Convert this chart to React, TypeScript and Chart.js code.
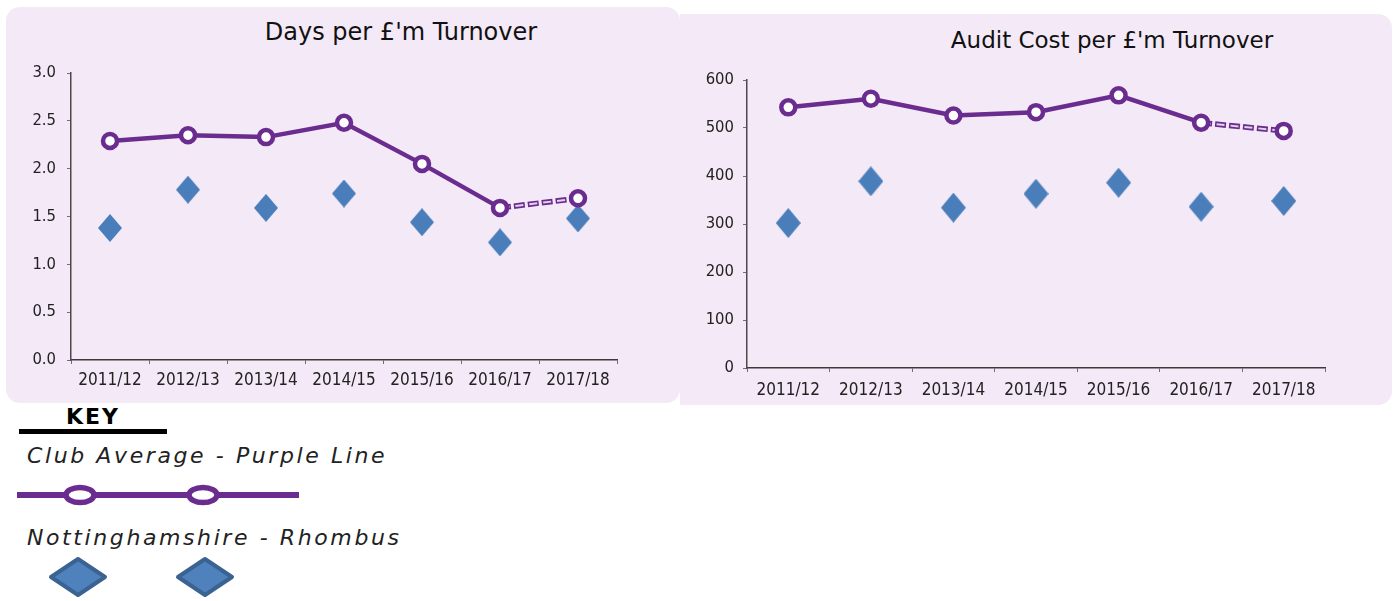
import React, { useEffect, useRef } from 'react';
import { Chart, registerables } from 'chart.js';

Chart.register(...registerables);

// ---- data ----
const categories = ['2011/12', '2012/13', '2013/14', '2014/15', '2015/16', '2016/17', '2017/18'];
const daysClub = [2.29, 2.35, 2.33, 2.48, 2.05, 1.59, 1.69];
const daysNotts = [1.38, 1.78, 1.59, 1.74, 1.44, 1.23, 1.48];
const costClub = [543, 561, 526, 533, 568, 511, 494];
const costNotts = [302, 389, 334, 363, 386, 336, 348];
const daysTicks = [0, 3, 0.5];
const costTicks = [0, 600, 100];

const PURPLE = '#6a2c8e';
const DASH_LIGHT = '#e3d3ec';
const BLUE = '#4a7ebb';
const PANEL = '#f4e9f6';
const FONT = "'DejaVu Sans', Verdana, sans-serif";
const TICK_FONT = "'DejaVu Sans Condensed', 'Liberation Sans Narrow', 'DejaVu Sans', sans-serif";

function makeDiamond(w: number, h: number, color: string) {
  const c = document.createElement('canvas');
  c.width = w;
  c.height = h;
  const g = c.getContext('2d')!;
  g.fillStyle = color;
  g.beginPath();
  g.moveTo(w / 2, 0);
  g.lineTo(w, h / 2);
  g.lineTo(w / 2, h);
  g.lineTo(0, h / 2);
  g.closePath();
  g.fill();
  return c;
}

function dashData(values: number[]) {
  return values.map((v, i) => (i >= values.length - 2 ? v : null));
}

function buildConfig(p: {
  club: number[];
  notts: number[];
  ticks: number[];
  decimals: number;
  yWidth: number;
  xHeight: number;
  padding: { left: number; top: number; right: number; bottom: number };
  diamond: HTMLCanvasElement;
  xPad: number;
  yPad: number;
}): any {
  const last = p.club.length - 1;
  return {
    type: 'line',
    data: {
      labels: categories,
      datasets: [
        {
          label: 'Club Average',
          data: p.club,
          borderColor: PURPLE,
          borderWidth: 4.5,
          segment: {
            borderColor: (ctx: any) => (ctx.p1DataIndex === last ? 'rgba(0,0,0,0)' : PURPLE),
          },
          pointRadius: 7,
          pointBorderWidth: 4.5,
          pointBackgroundColor: '#ffffff',
          pointBorderColor: PURPLE,
          fill: false,
          tension: 0,
        },
        {
          label: 'dash inner',
          data: dashData(p.club),
          borderColor: DASH_LIGHT,
          borderWidth: 2,
          borderDash: [8, 6],
          borderDashOffset: -1.5,
          pointRadius: 0,
          fill: false,
        },
        {
          label: 'dash outer',
          data: dashData(p.club),
          borderColor: PURPLE,
          borderWidth: 5.5,
          borderDash: [11, 3],
          pointRadius: 0,
          fill: false,
        },
        {
          label: 'Nottinghamshire',
          data: p.notts,
          showLine: false,
          pointStyle: p.diamond,
          pointRadius: 12,
          pointBackgroundColor: BLUE,
          pointBorderWidth: 0,
        },
      ],
    },
    options: {
      responsive: false,
      animation: false,
      events: [],
      layout: { padding: p.padding },
      plugins: {
        legend: { display: false },
        tooltip: { enabled: false },
        title: { display: false },
      },
      scales: {
        x: {
          type: 'category',
          offset: true,
          grid: {
            offset: true,
            drawOnChartArea: false,
            drawTicks: true,
            tickLength: 4,
            color: '#707070',
            lineWidth: 1,
          },
          border: { display: true, color: '#3a3a3a', width: 1.5 },
          ticks: {
            color: '#222',
            font: { family: TICK_FONT, size: 17 },
            padding: p.xPad,
            maxRotation: 0,
            autoSkip: false,
          },
          afterFit: (s: any) => {
            s.height = p.xHeight;
            s.paddingLeft = 0;
            s.paddingRight = 0;
          },
        },
        y: {
          min: p.ticks[0],
          max: p.ticks[1],
          grid: {
            drawOnChartArea: false,
            drawTicks: true,
            tickLength: 4,
            color: '#707070',
            lineWidth: 1,
          },
          border: { display: true, color: '#4a4a4a', width: 1.5 },
          ticks: {
            stepSize: p.ticks[2],
            color: '#222',
            font: { family: TICK_FONT, size: 16.5 },
            padding: p.yPad,
            callback: (v: any) => Number(v).toFixed(p.decimals),
          },
          afterFit: (s: any) => {
            s.width = p.yWidth;
            s.paddingTop = 0;
            s.paddingBottom = 0;
          },
        },
      },
    },
  };
}

export default function App() {
  const leftRef = useRef<HTMLCanvasElement>(null);
  const rightRef = useRef<HTMLCanvasElement>(null);

  useEffect(() => {
    const left = new Chart(
      leftRef.current!,
      buildConfig({
        club: daysClub,
        notts: daysNotts,
        ticks: daysTicks,
        decimals: 1,
        yWidth: 71,
        xHeight: 36,
        padding: { left: 0, top: 13, right: 63, bottom: 4 },
        diamond: makeDiamond(24, 28, BLUE),
        xPad: 6,
        yPad: 11,
      })
    );
    const right = new Chart(
      rightRef.current!,
      buildConfig({
        club: costClub,
        notts: costNotts,
        ticks: costTicks,
        decimals: 0,
        yWidth: 67,
        xHeight: 33,
        padding: { left: 0, top: 20, right: 67, bottom: 4 },
        diamond: makeDiamond(25, 30, BLUE),
        xPad: 8,
        yPad: 9,
      })
    );
    return () => {
      left.destroy();
      right.destroy();
    };
  }, []);

  const abs = (s: React.CSSProperties): React.CSSProperties => ({ position: 'absolute', ...s });
  const keyText: React.CSSProperties = {
    fontFamily: FONT,
    fontStyle: 'italic',
    fontSize: 22,
    lineHeight: '22px',
    letterSpacing: '2.6px',
    color: '#222',
    whiteSpace: 'nowrap',
  };
  const titleText: React.CSSProperties = {
    width: 400,
    textAlign: 'center',
    fontFamily: FONT,
    lineHeight: '24px',
    color: '#111',
    whiteSpace: 'nowrap',
  };

  return (
    <div style={abs({ left: 0, top: 0, width: 1394, height: 601, background: '#fff', overflow: 'hidden' })}>
      {/* panels */}
      <div style={abs({ left: 6, top: 7, width: 674, height: 396, background: PANEL, borderRadius: 14 })} />
      <div
        style={abs({
          left: 680,
          top: 14,
          width: 712,
          height: 391,
          background: PANEL,
          borderRadius: '0 14px 14px 0',
        })}
      />
      {/* titles */}
      <div style={abs({ left: 201, top: 20, fontSize: 24, ...titleText })}>Days per £'m Turnover</div>
      <div style={abs({ left: 912, top: 28, fontSize: 23, ...titleText })}>Audit Cost per £'m Turnover</div>
      {/* charts */}
      <canvas ref={leftRef} width={680} height={340} style={abs({ left: 0, top: 60, width: 680, height: 340 })} />
      <canvas ref={rightRef} width={712} height={345} style={abs({ left: 680, top: 60, width: 712, height: 345 })} />
      {/* key */}
      <div
        style={abs({
          left: 66,
          top: 406,
          fontFamily: FONT,
          fontWeight: 'bold',
          fontSize: 22,
          lineHeight: '22px',
          letterSpacing: '2px',
          color: '#000',
        })}
      >
        KEY
      </div>
      <div style={abs({ left: 19, top: 429, width: 148, height: 5, background: '#000' })} />
      <div style={abs({ left: 27, top: 445, ...keyText })}>Club Average - Purple Line</div>
      <div style={abs({ left: 27, top: 527, ...keyText })}>Nottinghamshire - Rhombus</div>
      <svg style={abs({ left: 0, top: 470, width: 320, height: 131 })} width={320} height={131}>
        <line x1={17} y1={25} x2={299} y2={25} stroke={PURPLE} strokeWidth={6} />
        <ellipse cx={80} cy={25} rx={14} ry={7.5} fill="#fff" stroke={PURPLE} strokeWidth={5.5} />
        <ellipse cx={203} cy={25} rx={14} ry={7.5} fill="#fff" stroke={PURPLE} strokeWidth={5.5} />
        <polygon points="78,89 105,107 78,125 51,107" fill="#4f81bd" stroke="#3b6391" strokeWidth={4} strokeLinejoin="round" />
        <polygon points="205,89 232,107 205,125 178,107" fill="#4f81bd" stroke="#3b6391" strokeWidth={4} strokeLinejoin="round" />
      </svg>
    </div>
  );
}
